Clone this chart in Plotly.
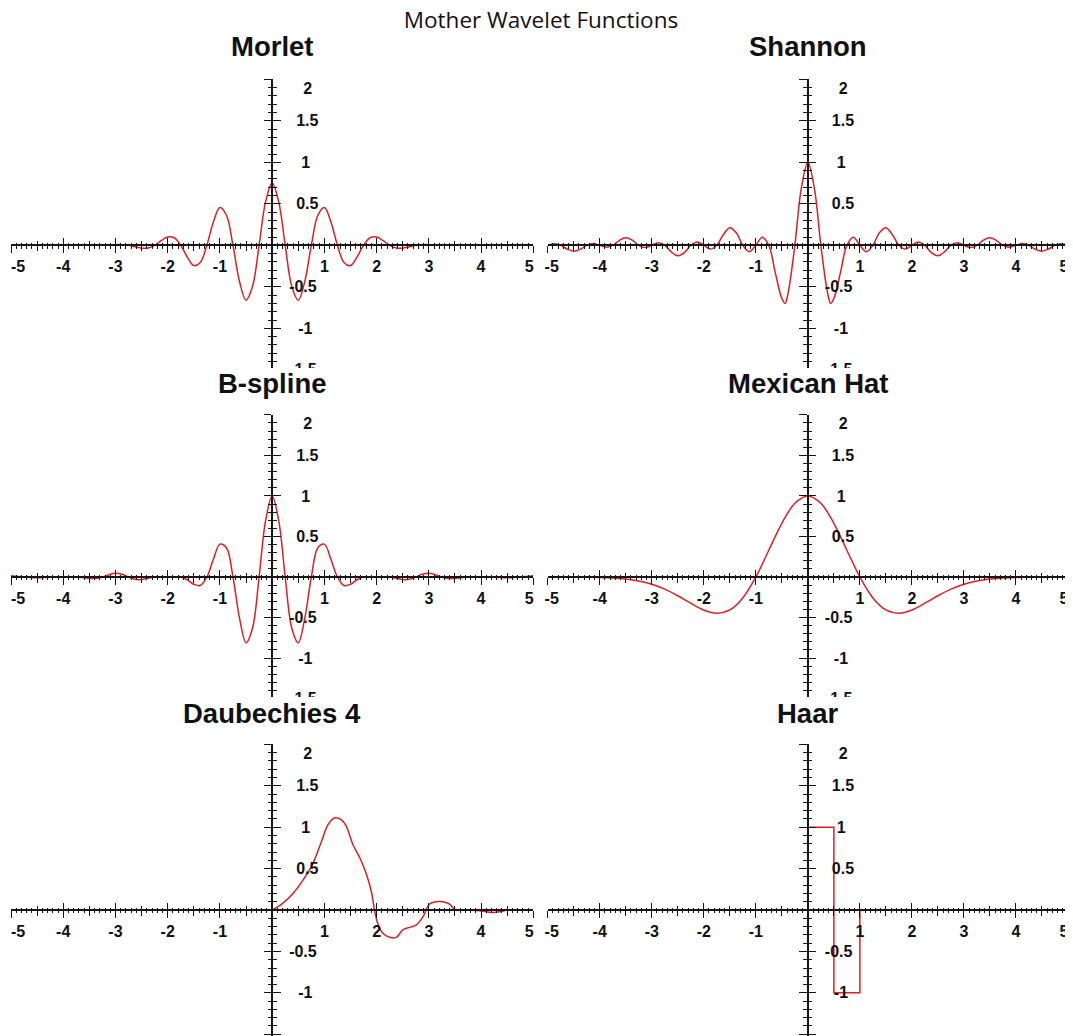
import plotly.graph_objects as go

# ---------------- data ----------------
titles = ["Morlet", "Shannon", "B-spline", "Mexican Hat", "Daubechies 4", "Haar"]

morlet_x = [-5, -4, -3.5, -3.0, -2.875, -2.75, -2.625, -2.5, -2.375, -2.25, -2.125, -2.0,
            -1.875, -1.75, -1.625, -1.5, -1.375, -1.25, -1.125, -1.0, -0.875, -0.75, -0.625,
            -0.5, -0.375, -0.25, -0.125, 0.0, 0.125, 0.25, 0.375, 0.5, 0.625, 0.75, 0.875,
            1.0, 1.125, 1.25, 1.375, 1.5, 1.625, 1.75, 1.875, 2.0, 2.125, 2.25, 2.375, 2.5,
            2.625, 2.75, 2.875, 3.0, 3.5, 4, 5]
morlet_y = [0, 0, 0, 0.008, 0.008, 0, -0.017, -0.033, -0.032, 0, 0.055, 0.101,
            0.091, 0, -0.142, -0.244, -0.206, 0, 0.282, 0.455, 0.362, 0, -0.436,
            -0.662, -0.494, 0, 0.526, 0.751, 0.526, 0, -0.494, -0.662, -0.436, 0, 0.362,
            0.455, 0.282, 0, -0.206, -0.244, -0.142, 0, 0.091, 0.101, 0.055, 0, -0.032, -0.033,
            -0.017, 0, 0.008, 0.008, 0, 0, 0]

shannon_x = [-5, -4.875, -4.75, -4.625, -4.5, -4.375, -4.25, -4.125, -4, -3.875, -3.75,
             -3.625, -3.5, -3.375, -3.25, -3.125, -3, -2.875, -2.75, -2.625, -2.5, -2.375,
             -2.25, -2.125, -2, -1.875, -1.75, -1.625, -1.5, -1.375, -1.25, -1.125, -1,
             -0.875, -0.75, -0.625, -0.5, -0.4375, -0.375, -0.25, -0.125, 0,
             0.125, 0.25, 0.375, 0.4375, 0.5, 0.625, 0.75, 0.875, 1, 1.125, 1.25, 1.375,
             1.5, 1.625, 1.75, 1.875, 2, 2.125, 2.25, 2.375, 2.5, 2.625, 2.75, 2.875, 3,
             3.125, 3.25, 3.375, 3.5, 3.625, 3.75, 3.875, 4, 4.125, 4.25, 4.375, 4.5,
             4.625, 4.75, 4.875, 5]
shannon_y = [0, 0.018, 0, -0.045, -0.071, -0.048, 0, 0.021, 0, -0.022, 0,
             0.057, 0.091, 0.062, 0, -0.028, 0, 0.030, 0, -0.079, -0.127, -0.088,
             0, 0.041, 0, -0.046, 0, 0.128, 0.212, 0.151, 0, -0.077, 0,
             0.098, 0, -0.333, -0.64, -0.70, -0.56, 0, 0.689, 1.0,
             0.689, 0, -0.56, -0.70, -0.64, -0.333, 0, 0.098, 0, -0.077, 0, 0.151,
             0.212, 0.128, 0, -0.046, 0, 0.041, 0, -0.088, -0.127, -0.079, 0, 0.030, 0,
             -0.028, 0, 0.062, 0.091, 0.057, 0, -0.022, 0, 0.021, 0, -0.048, -0.071,
             -0.045, 0, 0.018, 0]

bspline_x = [-5, -4.75, -4.5, -4.25, -4, -3.75, -3.625, -3.5, -3.375, -3.25, -3.125, -3,
             -2.875, -2.75, -2.625, -2.5, -2.375, -2.25, -2.125, -2, -1.875, -1.75, -1.625,
             -1.5, -1.375, -1.25, -1.125, -1, -0.875, -0.75, -0.625, -0.5, -0.375, -0.25,
             -0.125, 0, 0.125, 0.25, 0.375, 0.5, 0.625, 0.75, 0.875, 1, 1.125, 1.25, 1.375,
             1.5, 1.625, 1.75, 1.875, 2, 2.125, 2.25, 2.375, 2.5, 2.625, 2.75, 2.875, 3,
             3.125, 3.25, 3.375, 3.5, 3.625, 3.75, 4, 4.25, 4.5, 4.75, 5]
bspline_y = [0.016, 0, -0.010, 0, 0, 0, -0.007, -0.017, -0.017, 0, 0.028, 0.045,
             0.033, 0, -0.029, -0.032, -0.016, 0, 0.002, 0, 0.003, 0, -0.034,
             -0.090, -0.105, 0, 0.218, 0.405, 0.360, 0, -0.507, -0.811, -0.629, 0,
             0.698, 1.0, 0.698, 0, -0.629, -0.811, -0.507, 0, 0.360, 0.405, 0.218, 0, -0.105,
             -0.090, -0.034, 0, 0.003, 0, 0.002, 0, -0.016, -0.032, -0.029, 0, 0.033, 0.045,
             0.028, 0, -0.017, -0.017, -0.007, 0, 0, 0, -0.010, 0, 0.016]

mexhat_x = [-5, -4.5, -4, -3.75, -3.5, -3.25, -3, -2.75, -2.5, -2.25, -2, -1.75, -1.5,
            -1.25, -1, -0.75, -0.5, -0.25, 0, 0.25, 0.5, 0.75, 1, 1.25, 1.5, 1.75, 2,
            2.25, 2.5, 2.75, 3, 3.25, 3.5, 3.75, 4, 4.5, 5]
mexhat_y = [0, -0.001, -0.005, -0.012, -0.025, -0.049, -0.089, -0.150, -0.231, -0.323,
            -0.406, -0.446, -0.406, -0.258, 0, 0.330, 0.662, 0.909, 1.0, 0.909, 0.662,
            0.330, 0, -0.258, -0.406, -0.446, -0.406, -0.323, -0.231, -0.150, -0.089,
            -0.049, -0.025, -0.012, -0.005, -0.001, 0]

db4_x = [0.0, 0.2, 0.4, 0.59, 0.78, 0.94, 1.07, 1.19, 1.32, 1.42, 1.54, 1.70, 1.80, 1.90,
         1.96, 2.02, 2.12, 2.25, 2.38, 2.50, 2.63, 2.76, 2.89, 3.01, 3.14, 3.27, 3.40,
         3.49, 3.72, 3.97, 4.23, 4.45]
db4_y = [0.0, 0.08, 0.20, 0.36, 0.56, 0.82, 1.03, 1.11, 1.09, 1.01, 0.80, 0.60, 0.44, 0.22,
         0.0, -0.16, -0.28, -0.33, -0.33, -0.24, -0.21, -0.18, -0.08, 0.07, 0.10, 0.10, 0.07,
         0.01, 0.0, -0.01, -0.03, -0.01]

haar_x = [0, 0, 0.5, 0.5, 1, 1]
haar_y = [0, 1, 1, -1, -1, 0]

x_ticks = [-4, -3, -2, -1, 1, 2, 3, 4]
x_tick_text = ["-4", "-3", "-2", "-1", "1", "2", "3", "4"]
y_label_groups = [([1.5, 0.5], ["1.5", "0.5"]), ([-0.5, -1.5], ["-0.5", "-1.5"]),
                  ([1], ["1"]), ([-1], ["-1"]), ([2], ["2"])]

series = [(morlet_x, morlet_y, "spline"), (shannon_x, shannon_y, "spline"),
          (bspline_x, bspline_y, "spline"), (mexhat_x, mexhat_y, "spline"),
          (db4_x, db4_y, "spline"), (haar_x, haar_y, "linear")]

# ---------------- layout geometry (screen pixels) ----------------
OFF = 8                       # default page margin of the html body
SW, SH = 1073, 1036           # screen size
W, H = SW - OFF, SH - OFF     # figure size
COLS = [(11.0, 533.3), (547.7, 1068.0)]
# (y=2 pixel, y=0 pixel, clip pixel, axis bottom pixel)
ROWS = [(79.3, 245.3, 368.0, 380.0), (414.8, 577.0, 697.0, 706.0),
        (744.3, 910.0, 1036.0, 1036.0)]
END_SHIFT = [(7, -4), (4, -4)]               # shift of "-5" and "5" labels per column
YLAB_CENTER = 35.5
YLAB_W = [22.2, 27.6, 8.9, 14.2, 8.9]        # label widths of the groups
YLAB_ADJ = [4, -1, 2, 2, 4]
YLAB_SHIFT = [0, 0, 0, 0, 9]
LAB_BASE = 5
AX = "#161616"
RED = "rgb(226,30,34)"
TICKFONT = dict(family="Liberation Sans, Arial", size=16, color="#111111", weight="bold")


def fx(p):
    return (p - OFF) / W


def fy(p):
    return 1 - (p - OFF) / H


fig = go.Figure()
axes = {}
cnt = {"x": 0, "y": 0}


def add_axis(letter, spec):
    cnt[letter] += 1
    n = cnt[letter]
    suffix = "" if n == 1 else str(n)
    spec["automargin"] = False
    axes[f"{letter}axis{suffix}"] = spec
    return f"{letter}{suffix}"


def tick_spec(side, length, dtick, minor_len=None, minor_dtick=None):
    d = dict(ticks=side, ticklen=length, tickwidth=1.4, tickcolor=AX,
             tickmode="linear", tick0=0, dtick=dtick)
    if minor_len:
        d["minor"] = dict(ticks=side, ticklen=minor_len, tickwidth=1.0, tickcolor=AX,
                          tickmode="linear", tick0=0, dtick=minor_dtick, showgrid=False)
    return d


def holder(xa, ya):
    # empty trace so that an overlaying axis gets a subplot and is drawn
    fig.add_trace(go.Scatter(x=[None], y=[None], xaxis=xa, yaxis=ya, mode="lines",
                             hoverinfo="skip", showlegend=False))


annotations = []
shapes = []

for k, (sx, sy, shape) in enumerate(series):
    r, c = divmod(k, 2)
    xl, xr = COLS[c]
    ytop, yzero, yclip, ybot = ROWS[r]
    unit = (yzero - ytop) / 2.0
    ymin = -(ybot - yzero) / unit
    xdom = [max(fx(xl), 0), min(fx(xr), 1)]
    ydom = [max(fy(ybot), 0), fy(ytop)]
    xpos = fy(yzero)
    ypos = fx((xl + xr) / 2.0)

    bx = dict(range=[-5, 5], anchor="free", position=xpos, showgrid=False, zeroline=False,
              fixedrange=True, showticklabels=False, showline=False)
    by = dict(range=[ymin, 2], anchor="free", position=ypos, showgrid=False, zeroline=False,
              fixedrange=True, showticklabels=False, showline=False)

    px_ = add_axis("x", dict(bx, domain=xdom, showline=True, linecolor=AX, linewidth=1.8,
                             **tick_spec("outside", 7, 1, 2.5, 0.1)))
    py_ = add_axis("y", dict(by, domain=ydom, showline=True, linecolor=AX, linewidth=1.8,
                             **tick_spec("outside", 7.5, 0.5, 3.5, 0.1)))

    fig.add_trace(go.Scatter(x=sx, y=sy, mode="lines", xaxis=px_, yaxis=py_,
                             line=dict(color=RED, width=1.5, shape=shape),
                             hoverinfo="skip", showlegend=False))

    # extra tick layers so that ticks cross the axis lines
    ox = [add_axis("x", dict(bx, overlaying=px_, **tick_spec("inside", 7, 1, 2.5, 0.1))),
          add_axis("x", dict(bx, overlaying=px_, **tick_spec("outside", 4.5, 0.5))),
          add_axis("x", dict(bx, overlaying=px_, **tick_spec("inside", 4.5, 0.5)))]
    oy = [add_axis("y", dict(by, overlaying=py_, **tick_spec("inside", 7.5, 0.5, 3.5, 0.1)))]
    # x labels
    lab_x = dict(bx, showticklabels=True, ticks="", tickfont=TICKFONT, tickmode="array",
                 ticklabelstandoff=10)
    ox.append(add_axis("x", dict(lab_x, overlaying=px_, tickvals=x_ticks,
                                 ticktext=x_tick_text)))
    ox.append(add_axis("x", dict(lab_x, overlaying=px_, tickvals=[-5], ticktext=["-5"],
                                 ticklabelshift=END_SHIFT[c][0])))
    ox.append(add_axis("x", dict(lab_x, overlaying=px_, tickvals=[5], ticktext=["5"],
                                 ticklabelshift=END_SHIFT[c][1])))
    # y labels
    for g, (vals, txt) in enumerate(y_label_groups):
        standoff = int(round(YLAB_CENTER - YLAB_W[g] / 2.0 - LAB_BASE + YLAB_ADJ[g]))
        oy.append(add_axis("y", dict(by, overlaying=py_, side="right", showticklabels=True,
                                     ticks="", tickfont=TICKFONT, tickmode="array",
                                     tickvals=vals, ticktext=txt,
                                     ticklabelstandoff=standoff,
                                     ticklabelshift=YLAB_SHIFT[g])))
    for a in ox:
        holder(a, py_)
    for a in oy:
        holder(px_, a)

    title_y = {0: 47, 1: 383, 2: 713}[r]
    annotations.append(dict(text=titles[k], xref="paper", yref="paper", x=ypos,
                            y=fy(title_y), xanchor="center", yanchor="middle",
                            showarrow=False,
                            font=dict(family="Liberation Sans, Arial", size=27.5,
                                      color="#111111", weight="bold")))

# white bands that clip each panel where the next row begins
for r in range(2):
    shapes.append(dict(type="rect", xref="paper", yref="paper", x0=0, x1=1,
                       y0=fy(ROWS[r + 1][0] - 4), y1=fy(ROWS[r][2]),
                       fillcolor="white", line=dict(width=0), layer="above"))

fig.update_layout(
    width=W, height=H, margin=dict(l=0, r=0, t=0, b=0, pad=0, autoexpand=False),
    paper_bgcolor="white", plot_bgcolor="white", showlegend=False,
    title=dict(text="Mother Wavelet Functions", x=fx(541), xanchor="center",
               xref="paper", yref="container", y=1, yanchor="top",
               pad=dict(t=4, b=0, l=0, r=0), automargin=False,
               font=dict(family="Open Sans", size=22.5, color="#111111")),
    annotations=annotations, shapes=shapes, **axes,
)

fig.write_html("out.html", config={"displayModeBar": False})
